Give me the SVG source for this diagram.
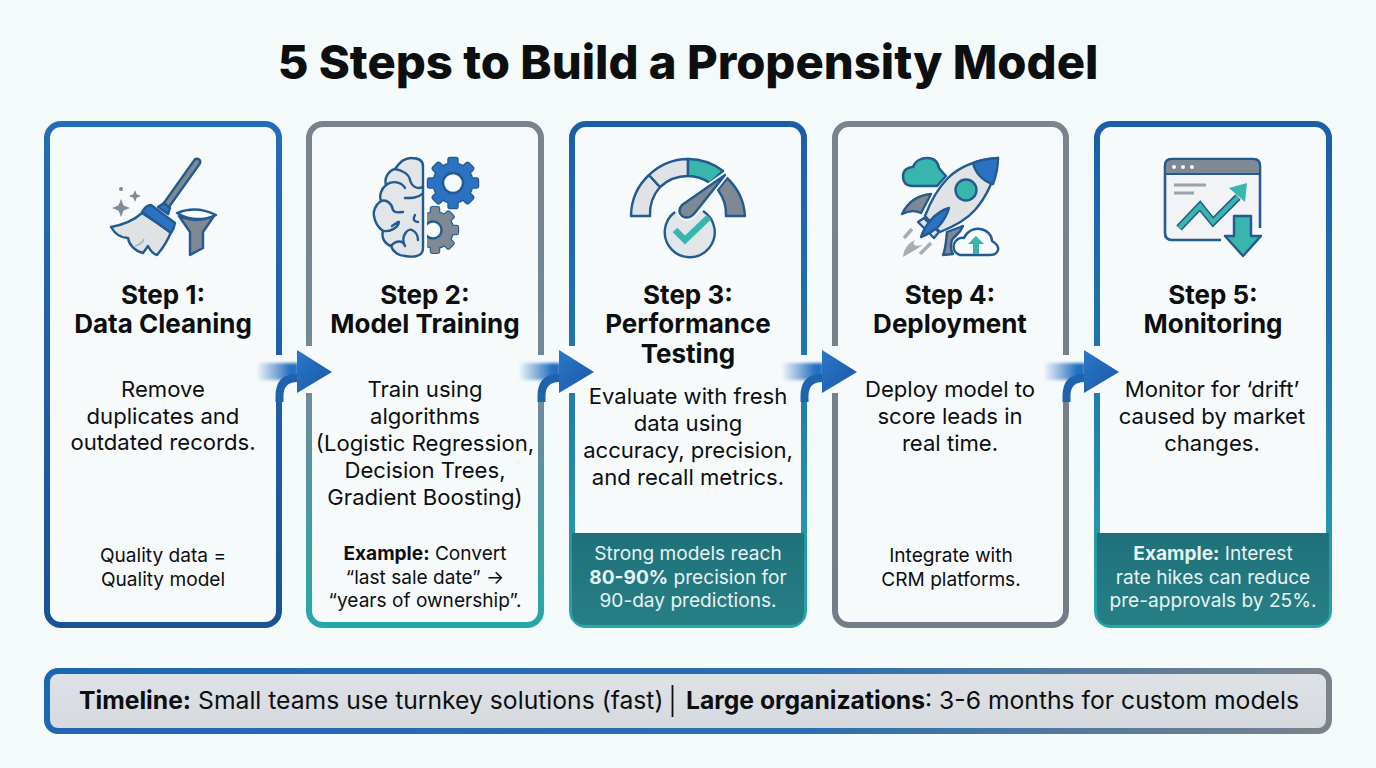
<svg xmlns="http://www.w3.org/2000/svg" width="1376" height="768" viewBox="0 0 1376 768">
<style>
text{font-family:Inter,"Liberation Sans",sans-serif;fill:#0c0e10;text-anchor:middle}
.title{font-size:47.200px;font-weight:800}
.h{font-size:26px;font-weight:700}
.b{font-size:22.100px;font-weight:400}
.s{font-size:19.100px;font-weight:400}
.w{fill:#e6f3f4}
.card{stroke-width:6;fill:#f6fafb}
.o{stroke:#235a8f;stroke-width:2.400;stroke-linejoin:round;stroke-linecap:round}
.ol{fill:none;stroke:#235a8f;stroke-width:2.400;stroke-linecap:round;stroke-linejoin:round}
.lg{fill:#dfe3e6}.gr{fill:#7f8993}.bl{fill:#2b72c2}.te{fill:#38b5ad}
.tl{text-anchor:start;font-size:24.700px}
</style>
<defs>
<linearGradient id="gBlue" x1="0" y1="0" x2="0" y2="1"><stop offset="0" stop-color="#236cb8"/><stop offset="1" stop-color="#195394"/></linearGradient>
<linearGradient id="gGrayTeal" x1="0" y1="0" x2="0" y2="1"><stop offset="0" stop-color="#7a838c"/><stop offset=".55" stop-color="#6f8a98"/><stop offset="1" stop-color="#25a7aa"/></linearGradient>
<linearGradient id="gBlueTeal" x1="0" y1="0" x2="0" y2="1"><stop offset="0" stop-color="#1c5ea8"/><stop offset=".5" stop-color="#2078ae"/><stop offset="1" stop-color="#25a9ab"/></linearGradient>
<linearGradient id="gGray" x1="0" y1="0" x2="0" y2="1"><stop offset="0" stop-color="#7b848d"/><stop offset="1" stop-color="#737d87"/></linearGradient>
<linearGradient id="gPanel" x1="0" y1="0" x2="0" y2="1"><stop offset="0" stop-color="#1f7178"/><stop offset="1" stop-color="#277f86"/></linearGradient>
<linearGradient id="gBanner" x1="0" y1="0" x2="1" y2="0"><stop offset="0" stop-color="#1d66b4"/><stop offset=".6" stop-color="#2a70b0"/><stop offset="1" stop-color="#7a838c"/></linearGradient>
<linearGradient id="gBannerFill" x1="0" y1="0" x2="0" y2="1"><stop offset="0" stop-color="#dfe3e7"/><stop offset="1" stop-color="#d5d9de"/></linearGradient>
<linearGradient id="gGlow" gradientUnits="userSpaceOnUse" x1="256" y1="0" x2="290" y2="0"><stop offset="0" stop-color="#2b72c2" stop-opacity="0"/><stop offset="1" stop-color="#2470c0"/></linearGradient>
<linearGradient id="gHead" x1="0" y1="0" x2="1" y2="1"><stop offset="0" stop-color="#2b77c8"/><stop offset="1" stop-color="#1a57a4"/></linearGradient>
<filter id="soft" x="-20%" y="-40%" width="140%" height="180%"><feGaussianBlur stdDeviation="1.800"/></filter>
<clipPath id="halfGear"><rect x="427" y="200" width="40" height="60"/></clipPath>
<g id="gearShape">
<circle r="19.500"/>
<rect x="-25" y="-4.500" width="50" height="9" rx="1.500"/>
<rect x="-25" y="-4.500" width="50" height="9" rx="1.500" transform="rotate(45)"/>
<rect x="-25" y="-4.500" width="50" height="9" rx="1.500" transform="rotate(90)"/>
<rect x="-25" y="-4.500" width="50" height="9" rx="1.500" transform="rotate(135)"/>
</g>
<g id="arrow">
<rect x="274" y="355" width="12" height="44" fill="#f6fafb"/>
<rect x="303" y="346" width="13" height="47" fill="#f6fafb"/>
<path d="M258 363H298V380H258Z" fill="url(#gGlow)" filter="url(#soft)"/>
<path d="M279.500 402V396Q279.500 378 297 378H300" fill="none" stroke="#1f62ae" stroke-width="8"/>
<path d="M297 350L332 372L297 393Z" fill="url(#gHead)"/>
</g>
</defs>
<rect width="1376" height="768" fill="#f4f9fa"/>
<text class="title" x="688" y="79">5 Steps to Build a Propensity Model</text>

<g id="step1">
<rect class="card" x="47" y="124" width="232" height="501" rx="14" stroke="url(#gBlue)"/>
<g id="icon1">
<path class="gr" d="M121 199l2.500 6.500 6.500 2.500-6.500 2.500-2.500 6.500-2.500-6.500-6.500-2.500 6.500-2.500z"/>
<path class="gr" d="M135 190l1.700 4.300 4.300 1.700-4.300 1.700-1.700 4.300-1.700-4.300-4.300-1.700 4.300-1.700z"/>
<circle class="gr" cx="121" cy="189" r="2"/>
<path d="M197 162L165 207" stroke="#235a8f" stroke-width="9" stroke-linecap="round"/>
<path d="M197 162L165 207" stroke="#7f8993" stroke-width="4" stroke-linecap="round"/>
<path class="o lg" d="M142 213C132 222 122 225 111 227C115 234 120 238 128 238C129 245 135 251 143 253L148 246C150 250 153 254 157 255C163 248 168 240 171 232Z"/>
<path d="M135 246Q142 244 144 239" fill="none" stroke="#a6adb3" stroke-width="1.500"/>
<path class="o bl" d="M158 207L164 203L170 208L168 214Z"/>
<path class="o bl" d="M142 212Q146 205 151 205L175 223Q174 229 171 233Z"/>
<path class="o" fill="#f6fafb" d="M177 213Q196 205 216 215Q196 224 177 213Z"/>
<path class="o gr" d="M179 216Q196 224 214 216L203 232V248L190 255V232Z"/>
</g>
<text class="h" x="163" y="304">Step 1:</text>
<text class="h" x="163" y="333">Data Cleaning</text>
<text class="b" x="163" y="397">Remove</text>
<text class="b" x="163" y="424">duplicates and</text>
<text class="b" x="163" y="450">outdated records.</text>
<text class="s" x="163" y="562">Quality data =</text>
<text class="s" x="163" y="586">Quality model</text>
</g>

<g id="step2">
<rect class="card" x="309" y="124" width="232" height="501" rx="14" stroke="url(#gGrayTeal)"/>
<g id="icon2">
<path class="o" style="fill:#e3e6e9" d="M423 166C423 160 417 158 411 158C404 158 399 163 395 169C388 171 384 178 386 185C381 189 379 196 381 201C375 205 373 212 374 216C375 223 379 228 383 231C381 238 385 244 391 246C393 252 399 256 405 256C411 257 423 258 423 248Z"/>
<path class="ol" d="M395 169C402 170 409 174 410 180M386 185C392 180 402 182 405 188M381 201C387 199 392 204 393 210M410 180C412 188 420 190 423 186M405 198C412 198 418 198 422 194M393 210C395 214 399 212 403 212M383 231C390 232 398 228 399 222M391 246C396 240 403 240 405 246M405 246C400 236 408 228 412 230M415 215C412 220 415 222 418 222M398 222L392 226M412 230C416 232 418 236 418 240"/>
<g transform="translate(453 183)">
<use href="#gearShape" fill="#235a8f" stroke="#235a8f" stroke-width="2.400"/>
<use href="#gearShape" fill="#2b72c2"/>
<circle r="10" fill="#f6fafb" stroke="#235a8f" stroke-width="2.400"/>
</g>
<g clip-path="url(#halfGear)">
<g transform="translate(435 230) scale(.92)">
<use href="#gearShape" fill="#235a8f" stroke="#235a8f" stroke-width="2.400"/>
<use href="#gearShape" fill="#7f8993"/>
</g>
<circle cx="433" cy="230" r="8.500" fill="#f6fafb" stroke="#235a8f" stroke-width="2.400"/>
</g>
</g>
<text class="h" x="425" y="304">Step 2:</text>
<text class="h" x="425" y="333">Model Training</text>
<text class="b" x="425" y="397">Train using</text>
<text class="b" x="425" y="424">algorithms</text>
<text class="b" x="425" y="451">(Logistic Regression,</text>
<text class="b" x="425" y="478">Decision Trees,</text>
<text class="b" x="425" y="505">Gradient Boosting)</text>
<text class="s" x="425" y="560"><tspan font-weight="700">Example:</tspan> Convert</text>
<text class="s" x="425" y="584">“last sale date” →</text>
<text class="s" x="425" y="607">“years of ownership”.</text>
</g>

<g id="step3">
<rect class="card" x="572" y="124" width="232" height="501" rx="14" stroke="url(#gBlueTeal)"/>
<path d="M572 533H804V611Q804 625 790 625H586Q572 625 572 611Z" fill="url(#gPanel)"/>
<g id="icon3">
<path class="o lg" d="M631 216A57 57 0 0 1 649 175L660 187A41 41 0 0 0 650 216Z"/>
<path class="o lg" d="M649 175A57 57 0 0 1 688 159V176A41 41 0 0 0 660 187Z"/>
<path class="o te" d="M688 159A57 57 0 0 1 723 171L710 183A41 41 0 0 0 688 176Z"/>
<path class="o gr" d="M727 178A57 57 0 0 1 745 216H726A41 41 0 0 0 718 190Z"/>
<path d="M675 212A25 25 0 1 0 703 211" fill="#e3e6e9" stroke="#235a8f" stroke-width="2.400"/>
<path d="M725 175L682 205Q677 211 682 216Q688 220 694 214Z" class="gr" stroke="#f6fafb" stroke-width="6" stroke-linejoin="round"/>
<path class="o gr" d="M725 175L682 205Q677 211 682 216Q688 220 694 214Z"/>
<path d="M675 230L685 240L709 217" fill="none" stroke="#38b5ad" stroke-width="6.500"/>
</g>
<text class="h" x="688" y="304">Step 3:</text>
<text class="h" x="688" y="333">Performance</text>
<text class="h" x="688" y="363">Testing</text>
<text class="b" x="688" y="404">Evaluate with fresh</text>
<text class="b" x="688" y="431">data using</text>
<text class="b" x="688" y="458">accuracy, precision,</text>
<text class="b" x="688" y="485">and recall metrics.</text>
<text class="s w" x="688" y="560">Strong models reach</text>
<text class="s w" x="688" y="584"><tspan font-weight="700">80-90%</tspan> precision for</text>
<text class="s w" x="688" y="607">90-day predictions.</text>
</g>

<g id="step4">
<rect class="card" x="835" y="124" width="231" height="501" rx="14" stroke="url(#gGray)"/>
<g id="icon4">
<path class="o te" d="M913 186C905 186 903 181 903 176C903 170 908 167 913 167C915 161 921 158 927 158C934 158 938 162 939 168C942 172 945 175 946 176L937 186Z"/>
<path class="o gr" d="M902 214C908 202 918 195 931 194L921 213C915 210 908 211 902 214Z"/>
<path class="o gr" d="M947 232L963 226C960 234 954 236 952 240C950 247 951 251 953 254L943 255C946 248 946 240 947 232Z"/>
<path class="o lg" d="M998 158C975 160 958 168 948 178C936 190 930 203 925 216L940 232C955 226 968 218 975 210C988 195 995 178 998 158Z"/>
<path class="o bl" d="M998 158C985 159 977 161 973 163C975 172 982 181 993 184C996 176 998 166 998 158Z"/>
<circle class="o te" cx="966" cy="190" r="10.500"/>
<path class="o lg" d="M918 222L924 218L939 232L934 238Z"/>
<path class="o bl" d="M949 208C935 212 925 225 921 237C935 232 945 222 949 208Z"/>
<path class="o" fill="#f6fafb" d="M960 255C954 253 953 248 954 244C955 240 960 237 964 238C967 231 974 228 980 229C987 230 992 235 992 241C996 243 999 247 998 250C997 254 993 255 990 255Z"/>
<path class="te" d="M976 236L984 244H979V254H973V244H968Z"/>
<path d="M903 257Q904 245 915 240Q910 248 923 245Q912 252 903 257Z" fill="#a6adb3"/>
<path d="M904 238L912 229M920 254L931 243" stroke="#a6adb3" stroke-width="3.500"/>
</g>
<text class="h" x="950" y="304">Step 4:</text>
<text class="h" x="950" y="333">Deployment</text>
<text class="b" x="950" y="397">Deploy model to</text>
<text class="b" x="950" y="424">score leads in</text>
<text class="b" x="950" y="451">real time.</text>
<text class="s" x="951" y="562">Integrate with</text>
<text class="s" x="951" y="586">CRM platforms.</text>
</g>

<g id="step5">
<rect class="card" x="1097" y="124" width="232" height="501" rx="14" stroke="url(#gBlueTeal)"/>
<path d="M1097 533H1329V611Q1329 625 1315 625H1111Q1097 625 1097 611Z" fill="url(#gPanel)"/>
<g id="icon5">
<path d="M1221 240H1172Q1165 240 1165 233V166Q1165 159 1172 159H1253Q1260 159 1260 166V228" fill="#f1f3f5" stroke="#235a8f" stroke-width="2.600"/>
<path d="M1165 174V166Q1165 159 1172 159H1253Q1260 159 1260 166V174Z" fill="#7f8993" stroke="#235a8f" stroke-width="2"/>
<circle cx="1174" cy="167" r="2" fill="#f6fafb"/><circle cx="1183" cy="167" r="2" fill="#f6fafb"/><circle cx="1192" cy="167" r="2" fill="#f6fafb"/>
<path d="M1174 185H1206M1174 193H1194" stroke="#9aa2aa" stroke-width="3"/>
<path d="M1179 228L1200 206L1213 222L1238 197" fill="none" stroke="#235a8f" stroke-width="7.500"/>
<path d="M1179 228L1200 206L1213 222L1238 197" fill="none" stroke="#38b5ad" stroke-width="4.500"/>
<path class="te" d="M1229 188L1247 183L1245 202Z"/>
<path class="o te" d="M1234 216H1251V236H1261L1243 256L1225 236H1234Z"/>
</g>
<text class="h" x="1213" y="304">Step 5:</text>
<text class="h" x="1213" y="333">Monitoring</text>
<text class="b" x="1212" y="397">Monitor for ‘drift’</text>
<text class="b" x="1212" y="424">caused by market</text>
<text class="b" x="1212" y="451">changes.</text>
<text class="s w" x="1213" y="560"><tspan font-weight="700">Example:</tspan> Interest</text>
<text class="s w" x="1213" y="584">rate hikes can reduce</text>
<text class="s w" x="1213" y="607">pre-approvals by 25%.</text>
</g>

<g id="connectors">
<use href="#arrow"/>
<use href="#arrow" x="262"/>
<use href="#arrow" x="525"/>
<use href="#arrow" x="787"/>
</g>

<g id="timeline">
<rect x="47" y="671" width="1282" height="60" rx="11" fill="url(#gBannerFill)" stroke="url(#gBanner)" stroke-width="6"/>
<text class="tl" x="79" y="709"><tspan font-weight="700">Timeline:</tspan> Small teams use turnkey solutions (fast)</text>
<path d="M672.500 685V717" stroke="#0c0e10" stroke-width="1.800"/>
<text class="tl" x="686" y="709"><tspan font-weight="700">Large organizations</tspan>: 3-6 months for custom models</text>
</g>
</svg>
